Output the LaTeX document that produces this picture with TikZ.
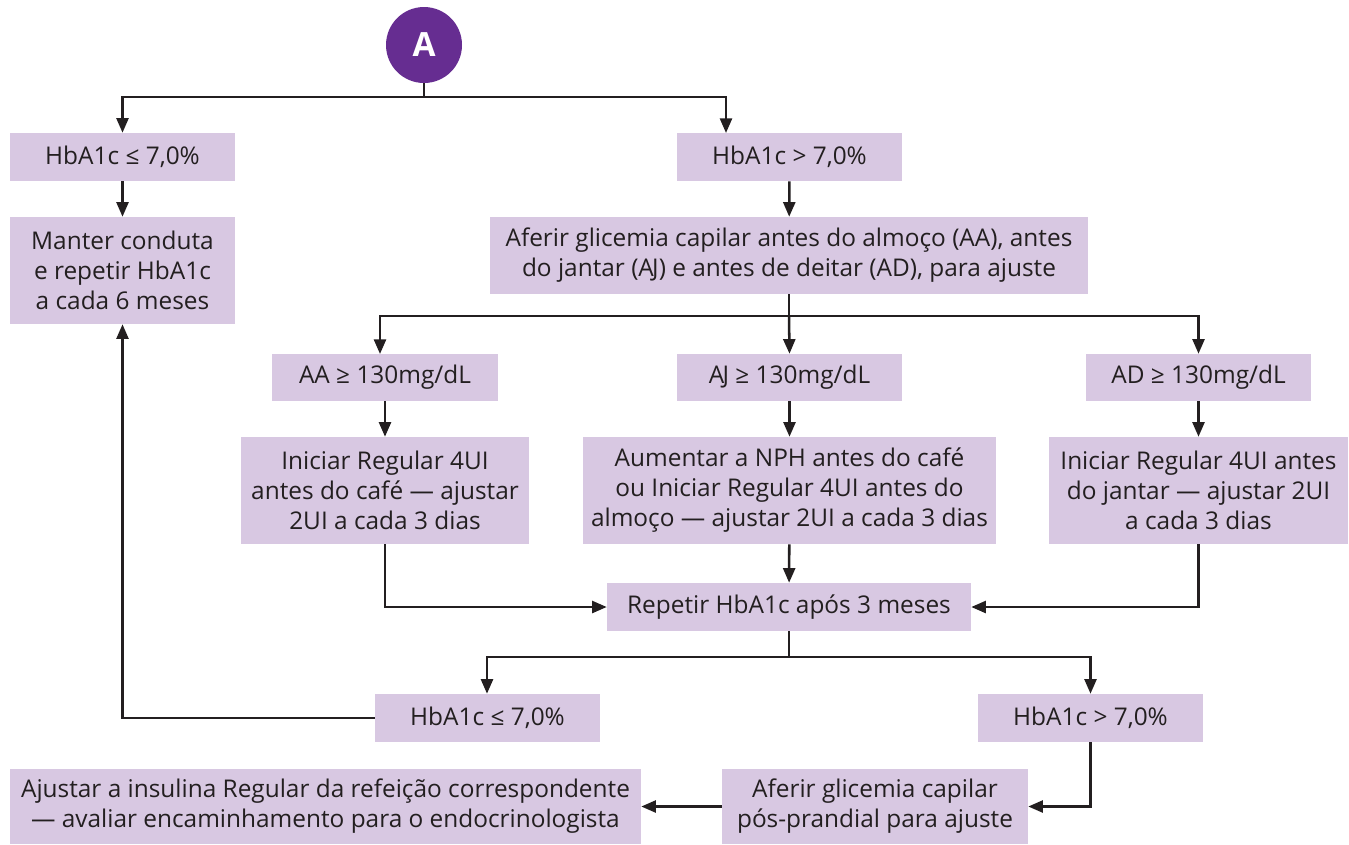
\documentclass[tikz,border=0pt]{standalone}
\usepackage{fontspec}
\setmainfont{Open Sans}
\usetikzlibrary{arrows.meta,calc}
\definecolor{boxfill}{HTML}{D8C8E2}
\definecolor{ink}{HTML}{231F20}
\definecolor{badge}{HTML}{662D91}

% box from corner (x1,y1) to corner (x2,y2), in pixel units
\newcommand\flowbox[6]{%
  \node[box, minimum width={(#4-#2)*0.75pt}, minimum height={(#5-#3)*0.75pt}]
    (#1) at ({(#2+#4)/2},{(#3+#5)/2}) {#6};}

\begin{document}
\begin{tikzpicture}[x=0.75pt,y=-0.75pt,
  box/.style={fill=boxfill, draw=none, inner sep=0pt, align=center, text=ink,
              font=\fontsize{18.3}{22.5}\selectfont},
  link/.style={draw=ink, line width=1.9pt},
  arr/.style={link, -{Triangle[length=11pt,width=9pt]}},
]
\useasboundingbox (0,0) rectangle (1349,844);

% start badge
\node[circle, fill=badge, minimum size=57pt, inner sep=0pt, text=white,
      font=\fontsize{25}{25}\selectfont\bfseries] (A) at (424,45) {A};

% first level
\flowbox{lowA}{10}{133}{235}{181}{HbA1c ≤ 7,0\%}
\flowbox{keep}{10}{217}{235}{324}{Manter conduta\\e repetir HbA1c\\a cada 6 meses}
\flowbox{highA}{677}{133}{902}{181}{HbA1c > 7,0\%}
\flowbox{check}{490}{217}{1088}{294}{Aferir glicemia capilar antes do almoço (AA), antes\\do jantar (A\kern-0.07em J) e antes de deitar (AD), para ajuste}

% glycemia thresholds
\flowbox{aa}{272}{354}{498}{401}{AA ≥ 130mg/dL}
\flowbox{aj}{677}{354}{902}{401}{A\kern-0.07em J ≥ 130mg/dL}
\flowbox{ad}{1086}{354}{1311}{401}{AD ≥ 130mg/dL}

% adjustments
\flowbox{doseaa}{241}{437}{529}{544}{Iniciar Regular 4UI\\antes do café — ajustar\\2UI a cada 3 dias}
\flowbox{doseaj}{583}{437}{996}{544}{Aumentar a NPH antes do café\\ou Iniciar Regular 4UI antes do\\almoço — ajustar 2UI a cada 3 dias}
\flowbox{dosead}{1049}{437}{1348}{544}{Iniciar Regular 4UI antes\\do jantar — ajustar 2UI\\a cada 3 dias}

% reassessment
\flowbox{repeat}{607}{583}{971}{631}{Repetir HbA1c após 3 meses}
\flowbox{lowB}{375}{694}{600}{742}{HbA1c ≤ 7,0\%}
\flowbox{highB}{978}{694}{1203}{742}{HbA1c > 7,0\%}
\flowbox{post}{722}{769}{1028}{844}{Aferir glicemia capilar\\pós-prandial para ajuste}
\flowbox{refer}{10}{769}{641}{844}{Ajustar a insulina Regular da refeição correspondente\\— avaliar encaminhamento para o endocrinologista}

% connectors: from badge
\coordinate (splitA) at (424,97);
\draw[link] (A.south) -- (splitA);
\draw[arr] (splitA) -| (lowA.north);
\draw[arr] (splitA) -| (726,133);
\draw[arr] (lowA) -- (keep);
\draw[arr] (highA) -- (check);

% connectors: to thresholds
\coordinate (splitB) at (789,316);
\draw[link] (check.south) -- (splitB);
\draw[arr] (splitB) -| (380,354);
\draw[arr] (splitB) -- (aj.north);
\draw[arr] (splitB) -| (ad.north);
\draw[arr] (aa.south) -- (doseaa.north);
\draw[arr] (aj) -- (doseaj);
\draw[arr] (ad.south) -- (dosead.north);

% connectors: to reassessment
\draw[arr] (doseaa.south) |- (repeat.west);
\draw[arr] (doseaj) -- (repeat);
\draw[arr] (dosead.south) |- (repeat.east);

\coordinate (splitC) at (789,657);
\draw[link] (repeat.south) -- (splitC);
\draw[arr] (splitC) -| (lowB.north -| 487,0);
\draw[arr] (splitC) -| (highB.north);

\draw[arr] (lowB.west) -| (keep.south);
\draw[arr] (highB.south) |- (post.east);
\draw[arr] (post.west) -- (refer.east);
\end{tikzpicture}
\end{document}
